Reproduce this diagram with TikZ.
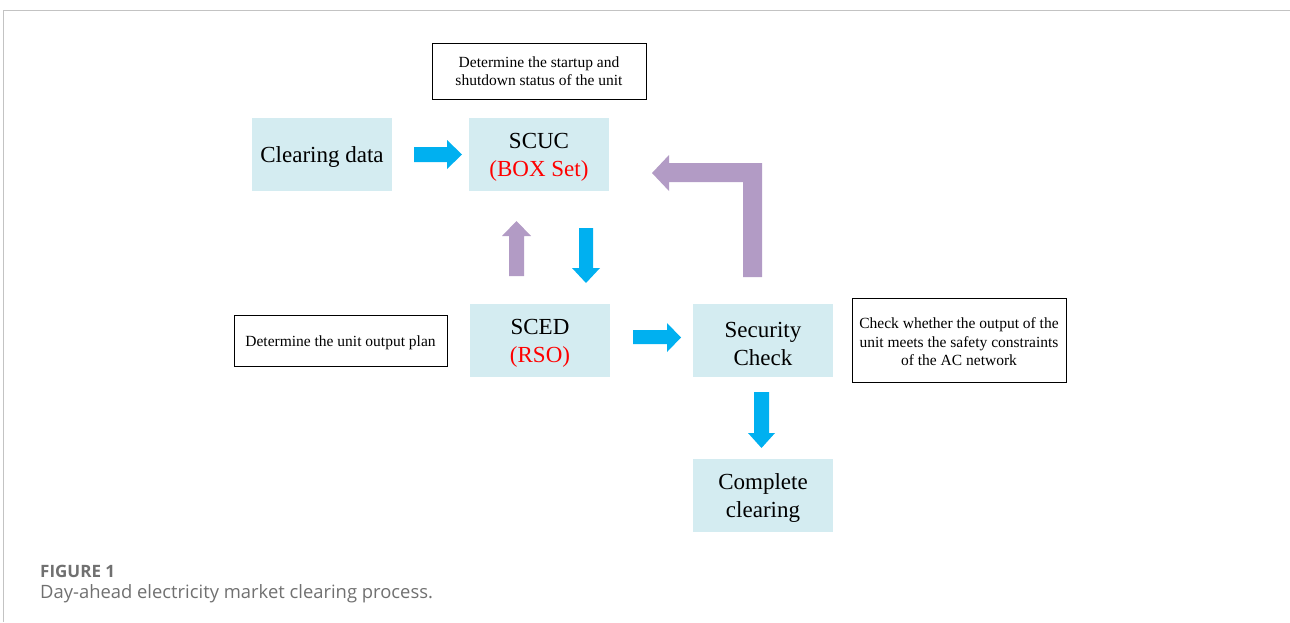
\documentclass[tikz,border=0pt]{standalone}
\usepackage{fontspec}
\setmainfont{Liberation Serif}
\newfontfamily\capfont{Open Sans}
\definecolor{boxfill}{RGB}{212,236,241}
\definecolor{arrblue}{RGB}{0,176,240}
\definecolor{arrpurp}{RGB}{178,155,197}
\definecolor{framegray}{RGB}{195,195,195}
\definecolor{capgray}{RGB}{112,112,112}
\newcommand\bigstrut{\rule{0pt}{21.5pt}}
\newcommand\smlstrut{\rule{0pt}{14.5pt}}
\tikzset{
  cbox/.style={rectangle, fill=boxfill, minimum width=140pt, minimum height=73pt, inner sep=0pt, align=center, font=\fontsize{23}{28}\selectfont},
  tbox/.style={rectangle, draw=black, line width=0.8pt, fill=white, inner sep=0pt, align=center, font=\fontsize{15.5}{18.5}\selectfont},
  bluearr/.style={fill=arrblue, draw=none},
  purparr/.style={fill=arrpurp, draw=none},
}
\begin{document}
\begin{tikzpicture}[x=1pt,y=-1pt]
\useasboundingbox (0,0) rectangle (1290,622);
\draw[framegray, line width=0.9pt] (3,622) -- (3,10) -- (1290,10);

\node[tbox, minimum width=214pt, minimum height=56pt] (status) at (539,71) {Determine the startup and\\shutdown status of the unit};
\node[cbox] (clear) at (322,154.5) {\bigstrut Clearing data};
\node[cbox] (scuc) at (539,154.5) {\bigstrut SCUC\\\textcolor{red}{(BOX Set)}};
\node[cbox] (sced) at (540,340.5) {\bigstrut SCED\\\textcolor{red}{(RSO)}};
\node[tbox, minimum width=213pt, minimum height=51pt] (plan) at (340.5,340.5) {\smlstrut Determine the unit output plan};
\node[cbox] (sec) at (763,340.5) {\bigstrut Security\\Check};
\node[tbox, minimum width=214pt, minimum height=84pt] (chk) at (959,340) {\smlstrut Check whether the output of the\\unit meets the safety constraints\\of the AC network};
\node[cbox] (done) at (763,495.5) {\bigstrut Complete\\clearing};

% right arrow clearing -> scuc
\fill[bluearr] (414,147) -- (447,147) -- (447,140) -- (462,154.5) -- (447,169) -- (447,162) -- (414,162) -- cycle;
% right arrow sced -> security
\fill[bluearr] (633,330) -- (667,330) -- (667,323) -- (681,337.5) -- (667,352) -- (667,344) -- (633,344) -- cycle;
% down arrow scuc -> sced
\fill[bluearr] (579,228) -- (593,228) -- (593,268) -- (600,268) -- (586,283) -- (572,268) -- (579,268) -- cycle;
% up arrow sced -> scuc
\fill[purparr] (509,276) -- (524,276) -- (524,236) -- (531,236) -- (516.5,221) -- (502,236) -- (509,236) -- cycle;
% down arrow security -> complete
\fill[bluearr] (754,392) -- (769,392) -- (769,433) -- (775,433) -- (761.5,448) -- (748,433) -- (754,433) -- cycle;
% L arrow security -> scuc
\fill[purparr] (743,277) -- (762,277) -- (762,163) -- (669,163) -- (669,155) -- (652,173) -- (669,191) -- (669,182) -- (743,182) -- cycle;

\node[anchor=base west, inner sep=0pt, font=\capfont\bfseries\fontsize{17}{20}\selectfont, text=capgray] (fig) at (40,577) {FIGURE 1};
\node[anchor=base west, inner sep=0pt, font=\capfont\fontsize{18.4}{22}\selectfont, text=capgray] (cap) at (40,598) {Day-ahead electricity market clearing process.};
\end{tikzpicture}
\end{document}
